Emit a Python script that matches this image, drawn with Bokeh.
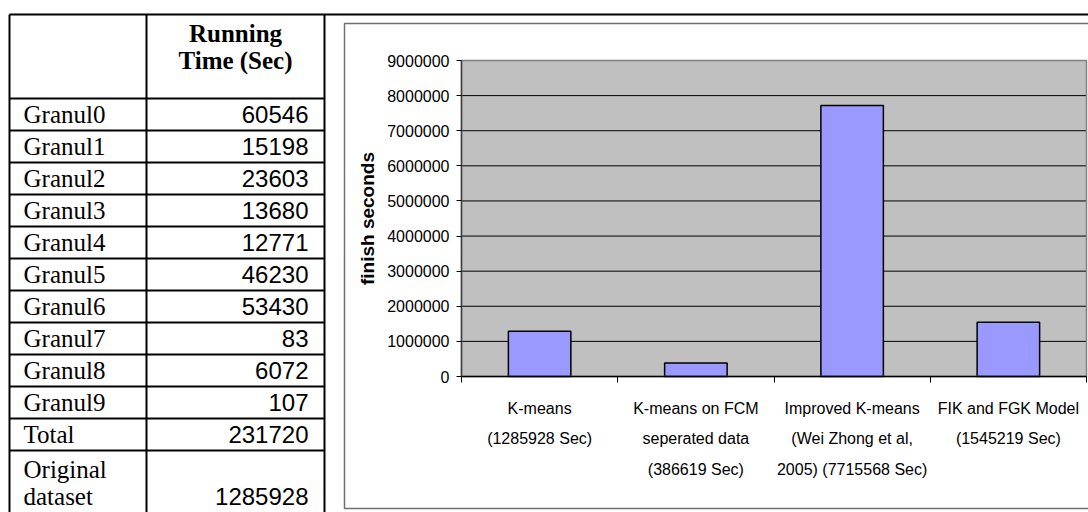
from bokeh.plotting import figure
from bokeh.models import Range1d, FixedTicker, NumeralTickFormatter, ColumnDataSource
from bokeh.core.properties import value
from bokeh.embed import file_html
from bokeh.resources import INLINE

# ---- table data: running time per granule ----
header_lines = ["Running", "Time (Sec)"]
row_labels = ["Granul0", "Granul1", "Granul2", "Granul3", "Granul4", "Granul5",
              "Granul6", "Granul7", "Granul8", "Granul9", "Total", "Original\ndataset"]
running_time = [60546, 15198, 23603, 13680, 12771, 46230,
                53430, 83, 6072, 107, 231720, 1285928]

# ---- chart data: finish time of each method ----
methods = ["K-means\n(1285928 Sec)",
           "K-means on FCM\nseperated data\n(386619 Sec)",
           "Improved K-means\n(Wei Zhong et al,\n2005) (7715568 Sec)",
           "FIK and FGK Model\n(1545219 Sec)"]
finish_seconds = [1285928, 386619, 7715568, 1545219]
y_ticks = [0, 1000000, 2000000, 3000000, 4000000, 5000000,
           6000000, 7000000, 8000000, 9000000]

W, H = 1088, 512
SERIF = "Liberation Serif"
SANS = "Liberation Sans"

# page layout (pixels): table columns/rows and the chart's plotting area
table_top, header_h, row_h, last_row_h, line_gap = 14, 84, 32, 64, 27
col_x = [9, 146, 324]
chart_box = (344, 23, W + 10, 508)          # left, top, right, bottom
plot_l, plot_t, plot_r, plot_b = 461, 60, 1086, 376

n = len(methods)
y_max = y_ticks[-1]
kx = n / (plot_r - plot_l)                  # category units per pixel
ky = y_max / (plot_b - plot_t)              # seconds per pixel

p = figure(width=W, height=H,
           x_range=Range1d(-plot_l * kx, n + (W - plot_r) * kx),
           y_range=Range1d(-(H - plot_b) * ky, y_max + plot_t * ky),
           output_backend="svg", toolbar_location=None, min_border=0)
p.extra_x_ranges = {"px": Range1d(0, W)}
p.extra_y_ranges = {"px": Range1d(H, 0)}
p.background_fill_color = "white"
p.border_fill_color = "white"
p.outline_line_color = None
p.xgrid.visible = False
p.ygrid.visible = False

# ---------------- table ----------------
heights = [row_h] * (len(row_labels) - 1) + [last_row_h + 30]
tops = []
y = table_top + header_h
for h in heights:
    tops.append(y)
    y += h
table_bottom = y

px = dict(x_range_name="px", y_range_name="px")
h_lines = [table_top] + tops + [table_bottom]
p.segment(x0=[col_x[0]] * len(h_lines), x1=[W if v == table_top else col_x[2] for v in h_lines],
          y0=h_lines, y1=h_lines, line_color="black", line_width=2, **px)
p.segment(x0=col_x, x1=col_x, y0=[table_top] * 3, y1=[table_bottom] * 3,
          line_color="black", line_width=2, **px)

hx = (col_x[1] + col_x[2]) / 2
p.text(x=[hx] * len(header_lines),
       y=[table_top + 19 + i * 27 for i in range(len(header_lines))],
       text=header_lines, text_font=value(SERIF), text_font_style="bold",
       text_font_size="25px", text_align="center", text_baseline="middle",
       text_color="black", **px)

lab_x, lab_y, lab_t, num_y = [], [], [], []
for i, (top, lab) in enumerate(zip(tops, row_labels)):
    parts = lab.split("\n")
    h = row_h if len(parts) == 1 else last_row_h
    mid = top + h / 2
    for j, part in enumerate(parts):
        lab_x.append(col_x[0] + 14)
        lab_y.append(mid + (j - (len(parts) - 1) / 2) * line_gap)
        lab_t.append(part)
    num_y.append(mid + (len(parts) - 1) / 2 * line_gap)

p.text(x=lab_x, y=lab_y, text=lab_t, text_font=value(SERIF), text_font_size="25px",
       text_align="left", text_baseline="middle", text_color="black", **px)
p.text(x=[col_x[2] - 16] * len(running_time), y=num_y, text=[str(v) for v in running_time],
       text_font=value(SANS), text_font_size="24px",
       text_align="right", text_baseline="middle", text_color="black", **px)

# chart frame inside the right-hand cell
p.quad(left=[chart_box[0]], right=[chart_box[2]], top=[chart_box[1]], bottom=[chart_box[3]],
       fill_color=None, line_color="#707070", line_width=1.5, **px)

# ---------------- bar chart ----------------
p.quad(left=[0], right=[n], bottom=[0], top=[y_max], fill_color="#C0C0C0", line_color=None)
inner = y_ticks[1:-1]
p.segment(x0=[0] * len(inner), x1=[n] * len(inner), y0=inner, y1=inner,
          line_color="black", line_width=1)

centers = [i + 0.5 for i in range(n)]
src = ColumnDataSource(dict(x=centers, top=finish_seconds))
p.vbar(x="x", top="top", width=0.4, source=src, fill_color="#9999FF",
       line_color="black", line_width=1.5)

p.quad(left=[0], right=[n], bottom=[0], top=[y_max], fill_color=None,
       line_color="#808080", line_width=1.5)

xa = p.xaxis[0]
xa.fixed_location = 0
xa.bounds = (0, n)
xa.ticker = FixedTicker(ticks=centers, minor_ticks=list(range(n + 1)))
xa.major_label_overrides = {float(cx): m for cx, m in zip(centers, methods)}
xa.major_tick_line_color = None
xa.major_tick_out = 6
xa.major_tick_in = 0
xa.minor_tick_out = 6
xa.minor_tick_in = 0
xa.minor_tick_line_color = "black"
xa.minor_tick_line_width = 1
xa.axis_line_color = "black"
xa.axis_line_width = 1.5
xa.major_label_standoff = 17
xa.major_label_text_font = SANS
xa.major_label_text_font_size = "16px"
xa.major_label_text_line_height = 1.8
xa.major_label_text_color = "black"

ya = p.yaxis[0]
ya.fixed_location = 0
ya.bounds = (0, y_max)
ya.ticker = FixedTicker(ticks=y_ticks)
ya.formatter = NumeralTickFormatter(format="0")
ya.major_tick_out = 5
ya.major_tick_in = 0
ya.minor_tick_line_color = None
ya.axis_line_color = "#404040"
ya.axis_line_width = 1.5
ya.major_label_standoff = 7
ya.major_label_text_font = SANS
ya.major_label_text_font_size = "16px"
ya.major_label_text_color = "black"
ya.axis_label = "finish seconds"
ya.axis_label_text_font = SANS
ya.axis_label_text_font_style = "bold"
ya.axis_label_text_font_size = "19px"
ya.axis_label_text_color = "black"
ya.axis_label_standoff = 6

open("out.html", "w").write(file_html(p, INLINE))
